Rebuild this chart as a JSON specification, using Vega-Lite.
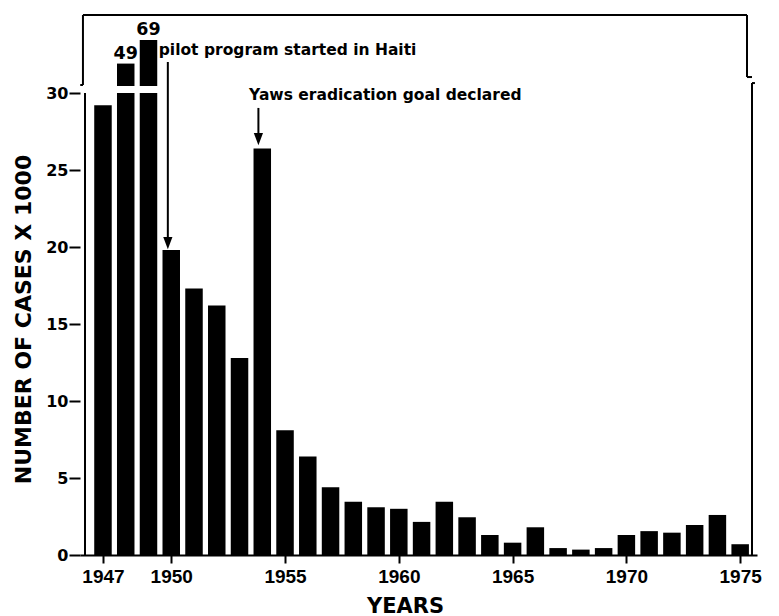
{
  "$schema": "https://vega.github.io/schema/vega-lite/v6.json",
  "autosize": {"type": "none"},
  "padding": {"left": 80, "top": 15, "right": 22, "bottom": 61},
  "width": 677,
  "height": 540,
  "background": "white",
  "view": {"stroke": null},
  "config": {"font": "DejaVu Sans"},
  "data": {"values": [
    {"year": 1947, "cases": 29.2},
    {"year": 1948, "cases": 49},
    {"year": 1949, "cases": 69},
    {"year": 1950, "cases": 19.8},
    {"year": 1951, "cases": 17.3},
    {"year": 1952, "cases": 16.2},
    {"year": 1953, "cases": 12.8},
    {"year": 1954, "cases": 26.4},
    {"year": 1955, "cases": 8.1},
    {"year": 1956, "cases": 6.4},
    {"year": 1957, "cases": 4.4},
    {"year": 1958, "cases": 3.45},
    {"year": 1959, "cases": 3.1},
    {"year": 1960, "cases": 3.0},
    {"year": 1961, "cases": 2.15},
    {"year": 1962, "cases": 3.45},
    {"year": 1963, "cases": 2.45},
    {"year": 1964, "cases": 1.3},
    {"year": 1965, "cases": 0.8},
    {"year": 1966, "cases": 1.8},
    {"year": 1967, "cases": 0.45},
    {"year": 1968, "cases": 0.35},
    {"year": 1969, "cases": 0.45},
    {"year": 1970, "cases": 1.3},
    {"year": 1971, "cases": 1.55},
    {"year": 1972, "cases": 1.45},
    {"year": 1973, "cases": 1.95},
    {"year": 1974, "cases": 2.6},
    {"year": 1975, "cases": 0.7}
  ]},
  "encoding": {
    "x": {
      "field": "year", "type": "quantitative",
      "scale": {"domain": [1946.21, 1975.52], "nice": false, "zero": false},
      "axis": {
        "values": [1947, 1950, 1955, 1960, 1965, 1970, 1975],
        "format": "d", "grid": false,
        "labelFont": "Liberation Sans", "labelFontWeight": "bold", "labelFontSize": 19, "labelColor": "black",
        "labelPadding": 4, "labelFlush": false, "labelOverlap": false,
        "tickColor": "black", "tickSize": 8, "tickWidth": 2,
        "domainColor": "black", "domainWidth": 2,
        "title": "YEARS", "titleFont": "DejaVu Sans", "titleFontSize": 21, "titleFontWeight": "bold", "titleColor": "black",
        "titleX": 325, "titleY": 57, "titleBaseline": "alphabetic", "titleAlign": "center"
      }
    },
    "y": {
      "field": "cases", "type": "quantitative",
      "scale": {"domain": [0, 30, 30.001, 90.17], "range": [540, 78, 71, 0], "nice": false, "zero": false},
      "axis": {
        "values": [0, 5, 10, 15, 20, 25, 30],
        "grid": false, "domain": false,
        "labelFont": "DejaVu Sans", "labelFontWeight": "bold", "labelFontSize": 16, "labelColor": "black",
        "labelPadding": 1,
        "tickColor": "black", "tickSize": 11, "tickWidth": 2,
        "title": "NUMBER OF CASES X 1000", "titleFont": "DejaVu Sans", "titleFontSize": 22, "titleFontWeight": "bold", "titleColor": "black",
        "titleAngle": 270, "titleAlign": "center", "titleBaseline": "middle", "titleX": -57, "titleY": 304
      }
    }
  },
  "layer": [
    {
      "transform": [{"filter": "datum.cases <= 30"}],
      "mark": {"type": "bar", "width": 17.5, "color": "black"},
      "encoding": {"y2": {"datum": 0}}
    },
    {
      "transform": [{"filter": "datum.cases > 30"}],
      "mark": {"type": "bar", "width": 17.5, "color": "black"},
      "encoding": {"y": {"datum": 30}, "y2": {"datum": 0}}
    },
    {
      "transform": [{"filter": "datum.cases > 30"}],
      "mark": {"type": "bar", "width": 17.5, "color": "black"},
      "encoding": {"y2": {"datum": 30.001}}
    },
    {
      "transform": [{"filter": "datum.cases > 30"}],
      "mark": {"type": "text", "font": "DejaVu Sans", "fontWeight": "bold", "fontSize": 17.5, "baseline": "bottom", "dy": -1, "color": "black"},
      "encoding": {"text": {"field": "cases", "type": "quantitative", "format": "d"}}
    },
    {
      "transform": [{"filter": "datum.year == 1947"}],
      "mark": {"type": "rule", "color": "black", "strokeWidth": 2},
      "encoding": {"x": {"datum": 1946.21}, "y": {"datum": 0}, "y2": {"datum": 30}}
    },
    {
      "transform": [{"filter": "datum.year == 1947"}],
      "mark": {"type": "rule", "color": "black", "strokeWidth": 2},
      "encoding": {"x": {"datum": 1946.12}, "y": {"datum": 30.85}, "y2": {"datum": 90.17}}
    },
    {
      "transform": [{"filter": "datum.year == 1947"}],
      "mark": {"type": "rule", "color": "black", "strokeWidth": 2},
      "encoding": {"x": {"datum": 1946.0}, "x2": {"datum": 1946.12}, "y": {"datum": 30.85}}
    },
    {
      "transform": [{"filter": "datum.year == 1947"}],
      "mark": {"type": "rule", "color": "black", "strokeWidth": 2},
      "encoding": {"x": {"datum": 1946.12}, "x2": {"datum": 1975.30}, "y": {"datum": 90.17}}
    },
    {
      "transform": [{"filter": "datum.year == 1947"}],
      "mark": {"type": "rule", "color": "black", "strokeWidth": 2},
      "encoding": {"x": {"datum": 1975.30}, "y": {"datum": 37.6}, "y2": {"datum": 90.17}}
    },
    {
      "transform": [{"filter": "datum.year == 1947"}],
      "mark": {"type": "rule", "color": "black", "strokeWidth": 2},
      "encoding": {"x": {"datum": 1975.30}, "x2": {"datum": 1975.52}, "y": {"datum": 37.6}}
    },
    {
      "transform": [{"filter": "datum.year == 1947"}],
      "mark": {"type": "rule", "color": "black", "strokeWidth": 2},
      "encoding": {"x": {"datum": 1975.52}, "y": {"datum": 0}, "y2": {"datum": 32.5}}
    },
    {
      "transform": [{"filter": "datum.year == 1947"}],
      "mark": {"type": "rule", "color": "black", "strokeWidth": 2},
      "encoding": {"x": {"datum": 1975.52}, "x2": {"datum": 1975.65}, "y": {"datum": 32.5}}
    },
    {
      "transform": [{"filter": "datum.year == 1947"}],
      "mark": {"type": "rule", "color": "black", "strokeWidth": 2},
      "encoding": {"x": {"datum": 1949.85}, "y": {"datum": 50.34}, "y2": {"datum": 20.3}}
    },
    {
      "transform": [{"filter": "datum.year == 1947"}],
      "mark": {"type": "point", "shape": "M-0.75,-2L0.75,-2L0,0Z", "size": 150, "filled": true, "color": "black", "opacity": 1},
      "encoding": {"x": {"datum": 1949.85}, "y": {"datum": 19.85}}
    },
    {
      "transform": [{"filter": "datum.year == 1947"}],
      "mark": {"type": "rule", "color": "black", "strokeWidth": 2},
      "encoding": {"x": {"datum": 1953.83}, "y": {"datum": 29.03}, "y2": {"datum": 26.9}}
    },
    {
      "transform": [{"filter": "datum.year == 1947"}],
      "mark": {"type": "point", "shape": "M-0.75,-2L0.75,-2L0,0Z", "size": 150, "filled": true, "color": "black", "opacity": 1},
      "encoding": {"x": {"datum": 1953.83}, "y": {"datum": 26.6}}
    },
    {
      "transform": [{"filter": "datum.year == 1947"}],
      "mark": {"type": "text", "text": "pilot program started in Haiti", "font": "DejaVu Sans", "fontWeight": "bold", "fontSize": 15.5, "align": "left", "baseline": "alphabetic", "color": "black"},
      "encoding": {"x": {"datum": 1949.45}, "y": {"datum": 56.3}}
    },
    {
      "transform": [{"filter": "datum.year == 1947"}],
      "mark": {"type": "text", "text": "Yaws eradication goal declared", "font": "DejaVu Sans", "fontWeight": "bold", "fontSize": 15.5, "align": "left", "baseline": "alphabetic", "color": "black"},
      "encoding": {"x": {"datum": 1953.42}, "y": {"datum": 29.545}}
    }
  ]
}
